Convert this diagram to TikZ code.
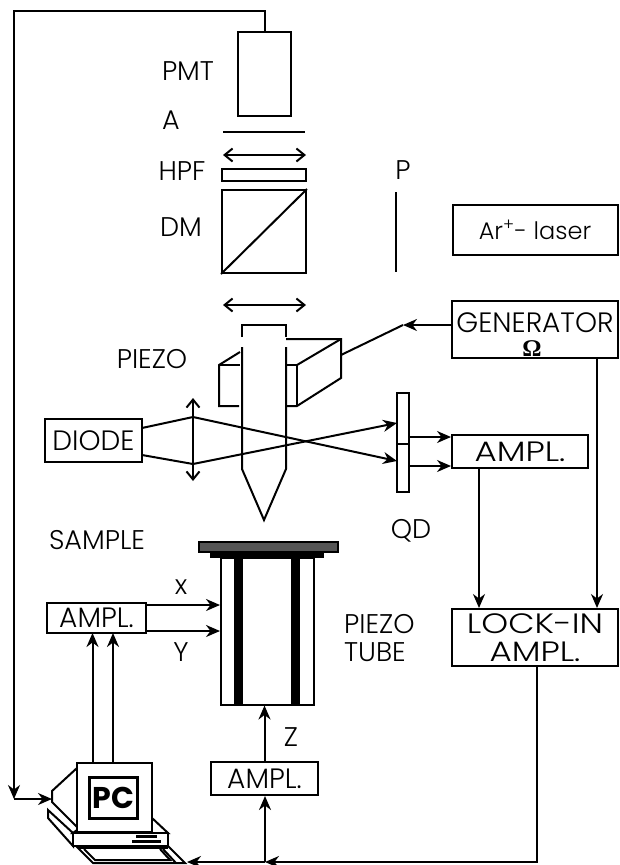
\documentclass[tikz,border=0pt]{standalone}
\usepackage{fontspec}
\setmainfont{Poppins}[UprightFont=* Light, BoldFont=* Bold]
\newfontfamily\omegafont{Liberation Serif}
\usepackage{xcolor}
\usetikzlibrary{arrows.meta}
\definecolor{plategray}{RGB}{85,85,85}
\newcommand{\widetext}[1]{\scalebox{1.22}[1]{#1}}

\begin{document}
\begin{tikzpicture}[x=1pt, y=-1pt,
    box/.style={draw, line width=2pt, inner sep=0pt, fill=white, align=center},
    lbl/.style={inner sep=0pt, font=\fontsize{27}{28}\selectfont, align=left},
    boxtext/.style={box, font=\fontsize{28}{28}\selectfont},
    wire/.style={line width=2pt},
    arr/.style={wire, -{Stealth[length=14pt, width=12pt]}},
    barb/.style={wire, {Straight Barb[length=8pt, width=13pt]}-{Straight Barb[length=8pt, width=13pt]}}]
  \useasboundingbox (0,0) rectangle (619,865);
  % optical column
  \node[box, minimum width=53pt, minimum height=84pt] (pmt) at (264.5,74) {};
  \node[box, minimum width=84pt, minimum height=12pt] (hpf) at (264,175) {};
  \node[box, minimum width=84pt, minimum height=83pt] (dm) at (264,231.5) {};
  \draw[wire] (dm.south west) -- (dm.north east);
  \coordinate (a1) at (223,132);
  \coordinate (a2) at (305,132);
  \draw[wire] (a1) -- (a2);
  \coordinate (m1) at (223,155);
  \coordinate (m2) at (306,155);
  \draw[barb] (m1) -- (m2);
  \coordinate (s1) at (223,305);
  \coordinate (s2) at (306,305);
  \draw[barb] (s1) -- (s2);
  \coordinate (p1) at (396,192);
  \coordinate (p2) at (396,272);
  \draw[wire] (p1) -- (p2);
  \node[box, font=\fontsize{24}{24}\selectfont, minimum width=165pt, minimum height=50pt] (laser) at (535,230) {Ar\textsuperscript{+}- laser};
  % piezo block behind the tip
  \draw[wire] (240,352) -- (219,365) -- (219,406) -- (239,406);
  \draw[wire] (219,365) -- (240,365);
  \draw[wire] (286,339) -- (341,339) -- (341,378) -- (297,406) -- (286,406);
  \draw[wire] (286,365) -- (297,365) -- (297,406);
  \draw[wire] (297,365) -- (341,339);
  % tip
  \draw[wire] (242,337) -- (242,325) -- (286,325) -- (286,337);
  \draw[wire] (242,347) -- (242,469) -- (264,520) -- (286,469) -- (286,347);
  % generator and its wire to the block
  \node[box, minimum width=166pt, minimum height=57pt] (gen) at (535,329.5) {};
  \node[inner sep=0pt, font=\fontsize{28}{28}\selectfont] (gentext) at (535,323) {GENERATOR};
  \node[inner sep=0pt, font=\fontsize{24}{24}\selectfont\omegafont\bfseries] (omega) at (532,349) {Ω};
  \coordinate (bend) at (403,325);
  \coordinate (block) at (341,355);
  \draw[arr] (gen.west |- bend) -- (bend);
  \draw[wire] (bend) -- (block);
  % detection
  \node[boxtext, minimum width=97pt, minimum height=43pt] (diode) at (93.5,440.5) {DIODE};
  \node[box, minimum width=12pt, minimum height=99pt] (qd) at (403,442.5) {};
  \draw[wire] (qd.west |- 0,444) -- (qd.east |- 0,444);
  \coordinate (l1) at (193,417);
  \coordinate (l2) at (193,464);
  \coordinate (d1) at (142,428);
  \coordinate (d2) at (142,455);
  \coordinate (q1) at (397,423);
  \coordinate (q2) at (397,461);
  \coordinate (l3) at (193,398);
  \coordinate (l4) at (193,481);
  \draw[barb] (l3) -- (l4);
  \draw[arr] (d1) -- (l1) -- (q2);
  \draw[arr] (d2) -- (l2) -- (q1);
  \node[boxtext, minimum width=136pt, minimum height=33pt] (ampa) at (520,451.5) {\widetext{AMPL.}};
  \coordinate (q3) at (409,437);
  \coordinate (q4) at (409,466);
  \draw[arr] (q3) -- (q3 -| ampa.west);
  \draw[arr] (q4) -- (q4 -| ampa.west);
  \node[boxtext, minimum width=166pt, minimum height=57pt] (lock) at (535,637.5) {\widetext{LOCK-IN}\\\widetext{AMPL.}};
  \coordinate (c1) at (479,468);
  \coordinate (c2) at (597,358);
  \draw[arr] (c1) -- (c1 |- lock.north);
  \draw[arr] (c2) -- (c2 |- lock.north);
  % piezo tube
  \node[draw, line width=2pt, fill=plategray, inner sep=0pt, minimum width=139pt, minimum height=10pt] (plate) at (268.5,547) {};
  \fill (210,552) rectangle (324,558);
  \node[box, minimum width=93pt, minimum height=147pt] (tube) at (267.5,631) {};
  \fill (234,558) rectangle (243,704);
  \fill (291,558) rectangle (300,704);
  \node[boxtext, minimum width=99pt, minimum height=30pt] (ampb) at (96.5,618) {AMPL.};
  \coordinate (x1) at (146,605);
  \coordinate (y1) at (146,631);
  \draw[arr] (x1) -- (x1 -| tube.west);
  \draw[arr] (y1) -- (y1 -| tube.west);
  \node[boxtext, minimum width=107pt, minimum height=33pt] (ampc) at (264.5,778.5) {AMPL.};
  \draw[arr] (ampc.north) -- (ampc.north |- tube.south);
  % computer
  \draw[wire, fill=white] (48,810) -- (48,818) -- (73,846) -- (73,833) -- cycle;
  \draw[wire, fill=white] (78,848) -- (93,863) -- (185,863) -- (168,846) -- cycle;
  \draw[wire] (84,849) -- (95,860) -- (170,860) -- (160,849);
  \draw[wire] (163,849) -- (176,863);
  \draw[wire, fill=white] (77,768) -- (52,791) -- (52,802) -- (77,827) -- cycle;
  \draw[wire, fill=white] (152,818) -- (168,833) -- (73,833) -- (77,830) -- cycle;
  \node[box, minimum width=75pt, minimum height=69pt] (screen) at (114.5,797.5) {};
  \node[draw, line width=3pt, fill=white, inner sep=0pt, minimum width=48pt, minimum height=41pt, font=\fontsize{30}{30}\selectfont\bfseries] (pc) at (113.5,798) {PC};
  \node[box, minimum width=95pt, minimum height=13pt] (base) at (120.5,839.5) {};
  \fill (80,846) rectangle (168,849);
  \fill (136,835) rectangle (157,838);
  \fill (132,840) rectangle (161,843);
  \coordinate (u1) at (92.5,633);
  \coordinate (u2) at (113,633);
  \draw[arr] (u1 |- screen.north) -- (u1);
  \draw[arr] (u2 |- screen.north) -- (u2);
  % feedback
  \coordinate (fb) at (537,862);
  \coordinate (fz) at (265,862);
  \coordinate (kb) at (187,862);
  \draw[arr] (lock.south -| fb) -- (fb) -- (fz);
  \draw[arr] (fz) -- (kb);
  \draw[arr] (fz) -- (fz |- ampc.south);
  \coordinate (top) at (14,11);
  \coordinate (low) at (14,799);
  \coordinate (front) at (52,799);
  \draw[arr] (pmt.north -| fz) -- (fz |- top) -- (top) -- (low);
  \draw[arr] (low) -- (front);
  % labels
  \node[lbl] (lpmt) at (188,71) {PMT};
  \node[lbl] (la) at (171,120) {A};
  \node[lbl] (lhpf) at (182,171) {HPF};
  \node[lbl] (ldm) at (181,227) {DM};
  \node[lbl] (lp) at (403,170) {P};
  \node[lbl] (lpiezo) at (152,359) {PIEZO};
  \node[lbl] (lsample) at (97,540) {SAMPLE};
  \node[lbl] (lx) at (181,587) {x};
  \node[lbl] (ly) at (181,652) {Y};
  \node[lbl] (lz) at (291,737) {Z};
  \node[lbl] (lqd) at (411,531) {QD};
  \node[lbl, anchor=west] (ltube) at (344,638) {PIEZO\\TUBE};
\end{tikzpicture}
\end{document}
